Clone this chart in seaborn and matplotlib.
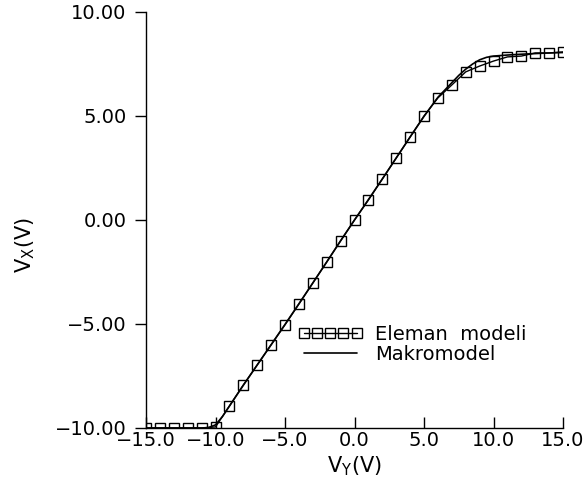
import numpy as np
import pandas as pd
import matplotlib
matplotlib.use("Agg")
import matplotlib.pyplot as plt
import seaborn as sns

# Eleman modeli: measured points every 1 V
vy_eleman = [-15, -14, -13, -12, -11, -10, -9, -8, -7, -6, -5, -4, -3, -2, -1, 0,
             1, 2, 3, 4, 5, 6, 7, 8, 9, 10, 11, 12, 13, 14, 15]
vx_eleman = [-10.0, -10.0, -10.0, -10.0, -10.0, -9.95, -8.94, -7.93, -6.97, -6.0, -5.04,
             -4.04, -3.03, -2.02, -1.0, 0.0, 0.96, 1.97, 2.98, 3.99, 5.0, 5.87,
             6.49, 7.12, 7.40, 7.64, 7.84, 7.88, 8.03, 8.03, 8.08]

# Makromodel: curve
vy_makro = [-15, -11, -10.5, -10, -9.5, -9, -8, -7, -6, -5, -4, -3, -2, -1, 0,
            1, 2, 3, 4, 5, 6, 7, 7.5, 8, 8.5, 9, 9.5, 10, 11, 12, 13, 14, 15]
vx_makro = [-10.0, -10.0, -9.98, -9.85, -9.45, -8.95, -7.95, -6.97, -6.0, -5.02,
            -4.03, -3.03, -2.02, -1.0, 0.0, 0.98, 1.97, 2.98, 3.99, 4.98, 5.9,
            6.6, 6.95, 7.25, 7.5, 7.7, 7.82, 7.88, 7.93, 7.97, 8.0, 8.03, 8.05]

df_el = pd.DataFrame({"vy": vy_eleman, "vx": vx_eleman})
df_mk = pd.DataFrame({"vy": vy_makro, "vx": vx_makro})

sns.set_style("ticks")
plt.rcParams["font.family"] = ["DejaVu Sans"]
plt.rcParams["text.color"] = "black"
plt.rcParams["axes.labelcolor"] = "black"

fig = plt.figure(figsize=(5.85, 4.95), dpi=100)
ax = fig.add_axes([0.2496, 0.1354, 0.9624 - 0.2496, 0.9758 - 0.1354])

sns.lineplot(data=df_el, x="vy", y="vx", ax=ax, color="black", linewidth=1.0,
             marker="s", markersize=7, markerfacecolor="none",
             markeredgecolor="black", markeredgewidth=1.0, label="Eleman  modeli")
sns.lineplot(data=df_mk, x="vy", y="vx", ax=ax, color="black", linewidth=1.2,
             label="Makromodel")

ax.set_xlim(-15, 15)
ax.set_ylim(-10, 10)
xt = [-15, -10, -5, 0, 5, 10, 15]
yt = [-10, -5, 0, 5, 10]
ax.set_xticks(xt)
ax.set_yticks(yt)
ax.set_xticklabels([f"{v:.1f}".replace("-", "\u2212") for v in xt])
ax.set_yticklabels([f"{v:.2f}".replace("-", "\u2212") for v in yt])
ax.tick_params(axis="x", direction="in", length=8, width=1, pad=2, labelsize=14, colors="black")
ax.tick_params(axis="y", direction="out", length=8, width=1, pad=6, labelsize=14, colors="black")
for s in ["top", "right"]:
    ax.spines[s].set_visible(False)
for s in ["left", "bottom"]:
    ax.spines[s].set_linewidth(1.0)
    ax.spines[s].set_color("black")

ax.set_xlabel("V$_\\mathregular{Y}$(V)", fontsize=15, labelpad=3)
ax.set_ylabel("V$_\\mathregular{X}$(V)", fontsize=15)
ax.yaxis.set_label_coords(-0.261, 0.44)

leg = ax.legend(loc="upper left", bbox_to_anchor=(0.365, 0.248), frameon=False,
                fontsize=14, numpoints=5, handlelength=3.3, handletextpad=0.67,
                labelspacing=0.05, borderaxespad=0, borderpad=0)
for h in leg.legend_handles:
    h.set_markersize(6.5)
for t in leg.get_texts():
    t.set_color("black")

fig.savefig("out.png", dpi=100)
